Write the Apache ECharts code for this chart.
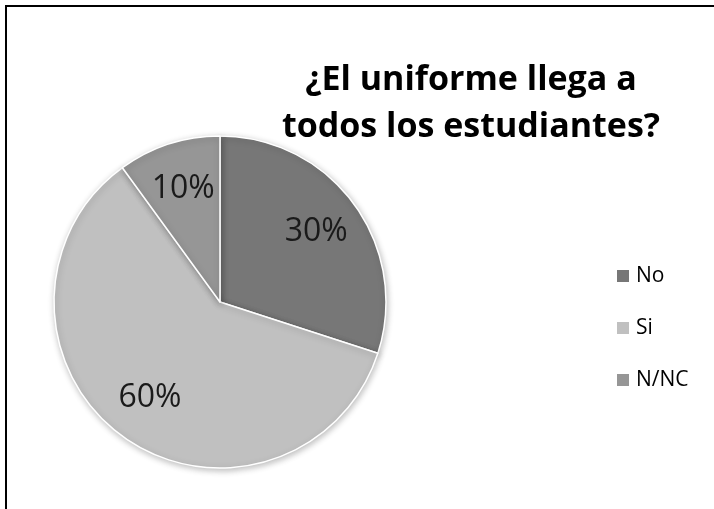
<!DOCTYPE html>
<html>
<head>
<meta charset="utf-8">
<script src="https://cdn.jsdelivr.net/npm/echarts@6/dist/echarts.min.js"></script>
<style>
  html, body { margin: 0; padding: 0; background: #fff; }
  #chart { width: 714px; height: 509px; }
</style>
</head>
<body>
<div id="chart"></div>
<script>
// Survey answers and their shares (percent)
const categories = ['No', 'Si', 'N/NC'];
const shares = [30, 60, 10];
const sliceColors = ['#777777', '#c0c0c0', '#969696'];
const titleLines = ['¿El uniforme llega a', 'todos los estudiantes?'];

const FONT = '"Open Sans", "DejaVu Sans", sans-serif';

const pieData = categories.map((name, i) => ({
  name: name,
  value: shares[i],
  itemStyle: { color: sliceColors[i] }
}));

const chart = echarts.init(document.getElementById('chart'), null, { renderer: 'canvas' });

chart.setOption({
  backgroundColor: '#ffffff',
  animation: false,
  title: {
    text: titleLines.join('\n'),
    left: 466,
    top: 52,
    textAlign: 'center',
    textStyle: {
      fontFamily: FONT,
      fontWeight: 'bold',
      fontSize: 34,
      lineHeight: 47,
      color: '#000000'
    }
  },
  legend: {
    orient: 'vertical',
    left: 610,
    top: 259,
    itemWidth: 14,
    itemHeight: 14,
    itemGap: 28,
    icon: 'rect',
    selectedMode: false,
    data: categories,
    textStyle: {
      fontFamily: FONT,
      fontSize: 21,
      lineHeight: 24,
      color: '#000000',
      padding: [0, 0, 0, 1]
    }
  },
  graphic: [{
    type: 'rect',
    shape: { x: 6, y: 6, width: 800, height: 600 },
    style: { fill: 'none', stroke: '#000000', lineWidth: 2 },
    silent: true,
    z: 10
  }],
  series: [
    {
      // filled slices
      type: 'pie',
      center: [220, 302],
      radius: [0, 166],
      startAngle: 90,
      clockwise: true,
      silent: true,
      label: { show: false },
      labelLine: { show: false },
      itemStyle: {
        borderColor: '#ffffff',
        borderWidth: 1.5,
        shadowBlur: 6,
        shadowColor: 'rgba(0,0,0,0.25)',
        shadowOffsetX: 1,
        shadowOffsetY: 2
      },
      data: pieData
    },
    {
      // percentage labels set at ~70% of the radius
      type: 'pie',
      center: [220, 302],
      radius: [66, 166],
      startAngle: 90,
      clockwise: true,
      silent: true,
      itemStyle: { color: 'rgba(0,0,0,0)', borderWidth: 0 },
      label: {
        show: true,
        position: 'inside',
        formatter: '{c}%',
        fontFamily: FONT,
        fontSize: 32,
        color: '#1a1a1a'
      },
      labelLine: { show: false },
      data: categories.map((name, i) => ({ name: name, value: shares[i] }))
    }
  ]
});
</script>
</body>
</html>
